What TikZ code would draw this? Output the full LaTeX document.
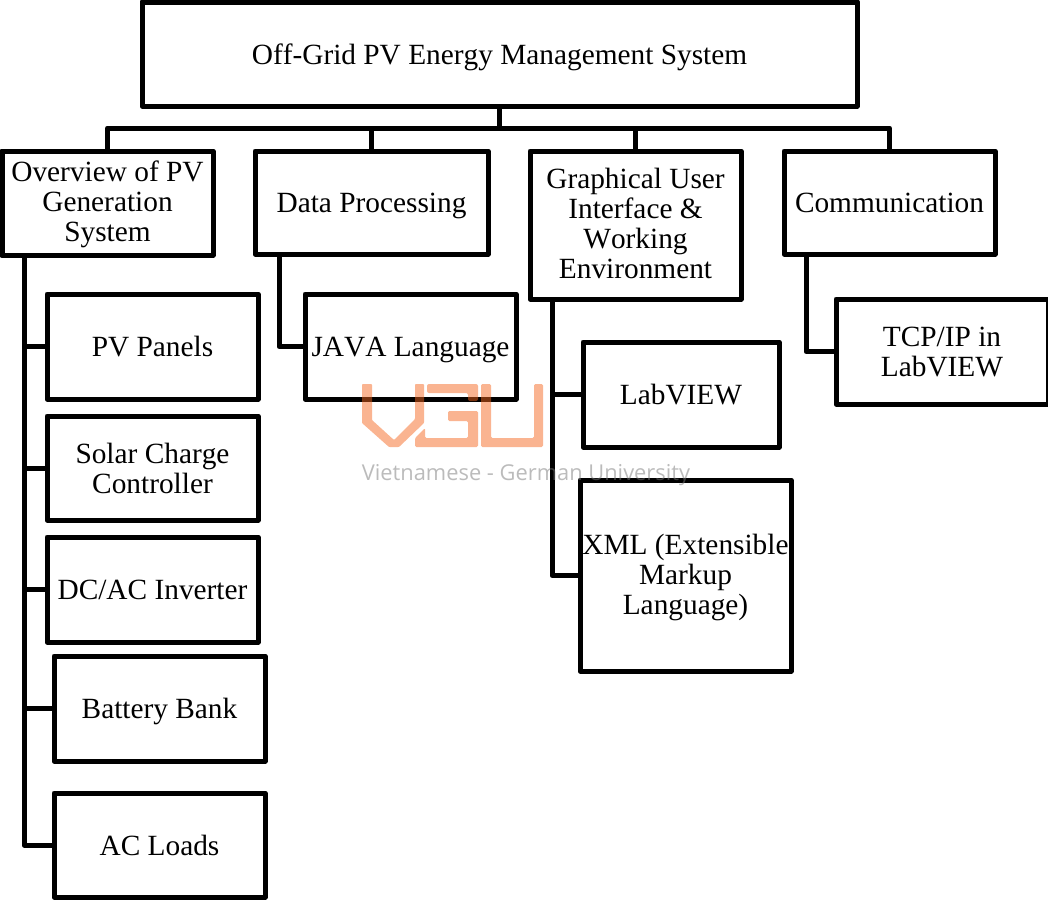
\documentclass[tikz,border=0pt]{standalone}
\usepackage{fontspec}
\setmainfont[Kerning=Off]{Liberation Serif}
\newfontfamily\wmfont{Open Sans}
\definecolor{wm}{RGB}{245,102,30}
\definecolor{wmtext}{RGB}{120,120,120}
\def\tk{6pt}
\newcommand{\bx}[6]{\node[boxn,minimum width=#4*0.75pt,minimum height=#5*0.75pt] (#1) at ({(#2+#4/2)*0.75pt},{-(#3+#5/2)*0.75pt}) {\vbox{\kern\tk\hbox{\begin{tabular}{@{}c@{}}#6\end{tabular}}}};}
\tikzset{
 boxn/.style={draw=black,line width=3.75pt,line join=round,inner sep=0pt,font=\fontsize{22pt}{22.5pt}\selectfont},
 wire/.style={draw=black,line width=3.75pt,line cap=butt,line join=round},
}
\begin{document}
\begin{tikzpicture}[x=0.75pt,y=-0.75pt]
\useasboundingbox (0,0) rectangle (1048,903);
% nodes
\bx{root}{142}{2}{715}{104}{Off-Grid PV Energy Management System}
\def\tk{3pt}
\bx{a}{2}{151}{211}{104}{Overview of PV\\Generation\\System}
\def\tk{6pt}
\bx{b}{255}{151}{233}{103}{Data Processing}
\def\tk{3pt}
\bx{c}{530}{151}{211}{148}{Graphical User\\Interface \&\\Working\\Environment}
\def\tk{6pt}
\bx{d}{784}{151}{211}{103}{Communication}
\bx{a1}{47}{294}{211}{105}{PV Panels}
\bx{a2}{47}{416}{211}{104}{Solar Charge\\Controller}
\bx{a3}{47}{537}{211}{105}{DC/AC Inverter}
\bx{a4}{54}{656}{211}{105}{Battery Bank}
\bx{a5}{54}{793}{211}{104}{AC Loads}
\bx{b1}{305}{294}{211}{105}{JAVA Language}
\bx{c1}{583}{342}{196}{105}{LabVIEW}
\def\tk{5pt}
\bx{c2}{580}{480}{211}{191}{XML (Extensible\\Markup\\Language)}
\def\tk{6pt}
\bx{d1}{836}{299}{212}{105}{TCP/IP in\\LabVIEW}
% connectors
\coordinate (bus) at (499,128);
\coordinate (as) at (24,255);
\coordinate (bs) at (279,254);
\coordinate (cs) at (552,299);
\coordinate (ds) at (806,254);
\draw[wire] (bus |- root.south) -- (bus);
\draw[wire] (a.north) -- (a.north |- bus) -- (d.north |- bus) -- (d.north);
\draw[wire] (b.north |- bus) -- (b.north);
\draw[wire] (c.north |- bus) -- (c.north);
\draw[wire] (as) |- (a5.west);
\draw[wire] (as |- a1.west) -- (a1.west);
\draw[wire] (as |- a2.west) -- (a2.west);
\draw[wire] (as |- a3.west) -- (a3.west);
\draw[wire] (as |- a4.west) -- (a4.west);
\draw[wire] (bs) |- (b1.west);
\draw[wire] (cs) |- (c2.west);
\draw[wire] (cs |- c1.west) -- (c1.west);
\draw[wire] (ds) |- (d1.west);
% watermark
\fill[wm,fill opacity=0.49,rounded corners=0.6pt] (362,384) -- (372,384) -- (372,420) -- (394,440) -- (415,419) -- (415,384) -- (424,384) -- (424,423) -- (399,447) -- (389,447) -- (362,423) -- cycle;
\fill[wm,fill opacity=0.49,rounded corners=1.5pt] (427,384) -- (478,384) -- (478,401) -- (468,401) -- (468,393) -- (427,393) -- cycle;
\fill[wm,fill opacity=0.49,rounded corners=1pt] (448,411) -- (478,411) -- (478,447) -- (415,447) -- (415,438) -- (425,428) -- (425,438) -- (468,438) -- (468,421) -- (448,421) -- cycle;
\fill[wm,fill opacity=0.49,rounded corners=1pt] (481,384) -- (491,384) -- (491,438) -- (534,438) -- (534,384) -- (543,384) -- (543,447) -- (481,447) -- cycle;
\node[font=\wmfont\fontsize{16.4pt}{16.4pt}\selectfont,text=wmtext,text opacity=0.5,anchor=center] (wmt) at (526,475.5) {Vietnamese - German University};
\end{tikzpicture}
\end{document}
